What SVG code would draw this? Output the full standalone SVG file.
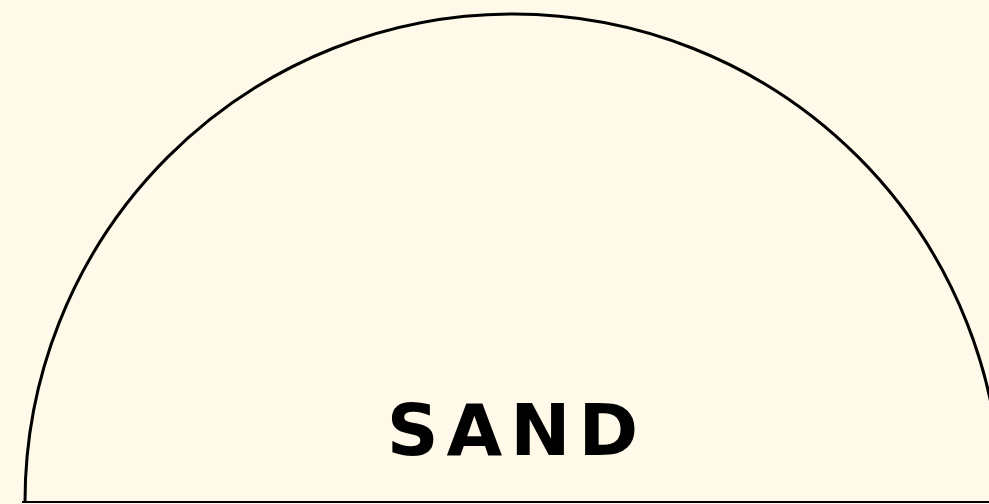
<svg xmlns="http://www.w3.org/2000/svg" width="989" height="504" viewBox="0 0 989 504">
<style>
.outline{fill:none;stroke:#000;stroke-width:3}
.label{font-family:"DejaVu Sans",sans-serif;font-weight:700;font-size:72px;fill:#000;letter-spacing:8px}
</style>
<rect width="989" height="504" fill="#FEF9E8"/>
<g id="sand">
<path class="outline" d="M 25 502 A 488 488 0 0 1 1001 502"/>
<line x1="22" y1="502" x2="989" y2="502" stroke="#000" stroke-width="2"/>
<text class="label" x="516.5" y="455" text-anchor="middle">SAND</text>
</g>
</svg>
